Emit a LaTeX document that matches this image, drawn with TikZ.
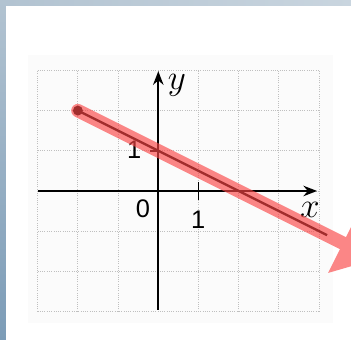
\documentclass[tikz,border=0pt]{standalone}
\usepackage{fontspec}
\setsansfont{Liberation Sans}
\usetikzlibrary{arrows.meta}
\definecolor{framegray}{RGB}{178, 195, 209}
\definecolor{framedark}{RGB}{124, 156, 183}
\definecolor{markred}{RGB}{250, 70, 70}

\begin{document}
\begin{tikzpicture}[
        gridline/.style={gray!50, densely dotted, line width=0.6pt},
        axis/.style={-{Stealth[length=3.4mm, width=2.6mm]}, line width=1.4pt},
        tick/.style={line width=1.4pt},
        lbl/.style={font=\sffamily\fontsize{18}{20}\selectfont, inner sep=0pt},
        var/.style={font=\fontsize{23}{25}\selectfont, inner sep=0pt},
        highlight/.style={markred, line width=9.5pt, line cap=round,
            -{Triangle[length=9mm, width=16mm]}}
    ]
    \useasboundingbox (-3.938,-3.706) rectangle (4.794,4.751);
    % frame and scanned page
    \fill[white] (-3.938,-3.706) rectangle (4.794,4.751);
    \shade[top color=framegray, bottom color=framedark] (-3.938,-3.706) rectangle (-3.789,4.751);
    \shade[left color=framegray, right color=framegray!70] (-3.789,4.602) rectangle (4.794,4.751);
    \fill[black!1.5] (-3.24,-3.28) rectangle (4.35,3.38);
    % grid
    \foreach \gx in {-3,...,4}
        \draw[gridline] (\gx,-3) -- (\gx,3);
    \foreach \gy in {-3,...,3}
        \draw[gridline] (-3,\gy) -- (4,\gy);
    % axes
    \coordinate (xstart) at (-3,0);
    \coordinate (xend) at (3.95,0);
    \coordinate (ystart) at (0,-2.95);
    \coordinate (yend) at (0,2.98);
    \draw[axis] (xstart) -- (xend);
    \draw[axis] (ystart) -- (yend);
    \draw[tick] (1,-0.22) -- (1,0.22);
    \draw[tick] (-0.2,1) -- (0,1);
    \node[lbl] (orig) at (-0.38,-0.43) {0};
    \node[lbl] (xone) at (0.99,-0.72) {1};
    \node[lbl] (yone) at (-0.6,1.02) {1};
    \node[var] (xlab) at (3.77,-0.47) {$x$};
    \node[var] (ylab) at (0.46,2.64) {$y$};
    % ray with its red mark
    \node[circle, fill=black, inner sep=0pt, minimum size=7pt] (start) at (-2,2) {};
    \coordinate (finish) at (4.2,-1.1);
    \coordinate (markend) at (5.4,-1.7);
    \draw[line width=1.6pt] (start.center) -- (finish);
    \begin{scope}[transparency group, opacity=0.65]
        \draw[highlight] (start.center) -- (markend);
    \end{scope}
\end{tikzpicture}
\end{document}
